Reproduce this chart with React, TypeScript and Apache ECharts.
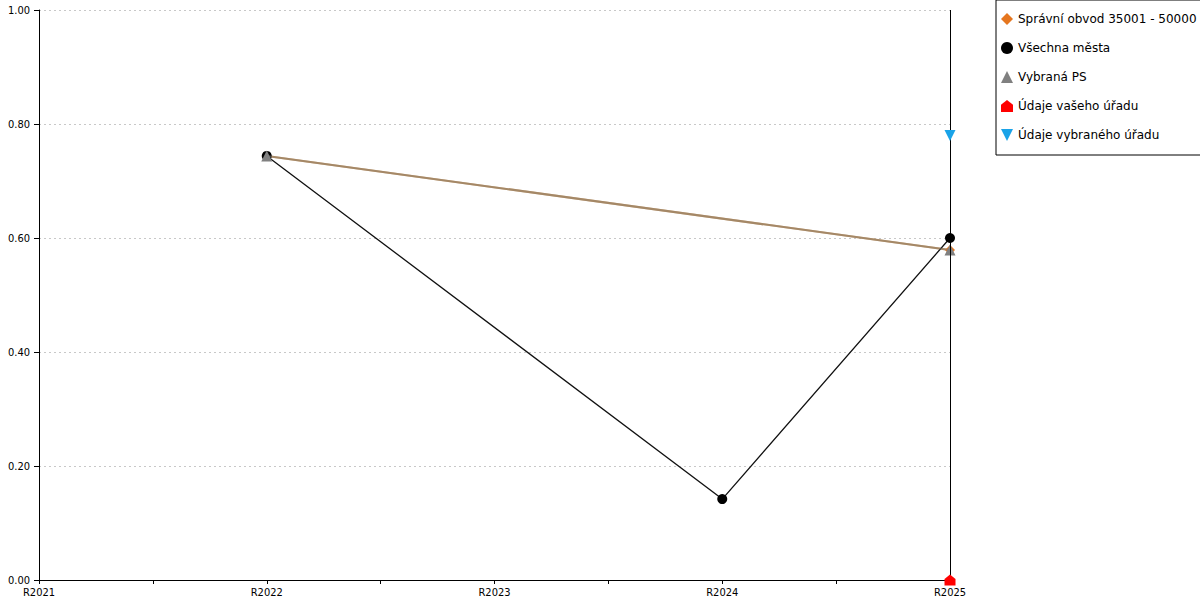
import React, { useEffect, useRef } from "react";
import * as echarts from "echarts";

const categories = ["R2021", "R2022", "R2023", "R2024", "R2025"];
const spravniObvod = [null, 0.744, null, null, 0.579];
const vsechnaMesta = [null, 0.744, null, 0.142, 0.6];
const vybranaPS = [null, 0.744, null, null, 0.579];
const vasehoUradu = [null, null, null, null, 0.0];
const vybranehoUradu = [null, null, null, null, 0.78];
const yTicks = [0, 0.2, 0.4, 0.6, 0.8, 1.0];

const toPairs = (arr: (number | null)[]) =>
  arr.map((v, i) => (v === null ? null : [i, v])).filter((p) => p !== null);

const FONT = "DejaVu Sans";
const AXIS_FONT = "DejaVu Sans Condensed, DejaVu Sans";

export default function App() {
  const ref = useRef<HTMLDivElement>(null);
  useEffect(() => {
    if (!ref.current) return;
    const chart = echarts.init(ref.current, null, { renderer: "svg" });
    const option: any = {
      animation: false,
      textStyle: { fontFamily: FONT },
      grid: { left: 39, right: 250, top: 10, bottom: 20, containLabel: false },
      legend: {
        orient: "vertical",
        left: 996,
        top: 0,
        padding: [13, 6, 14, 5],
        itemGap: 17,
        itemWidth: 12,
        itemHeight: 12,
        borderColor: "#000",
        borderWidth: 1,
        textStyle: { fontFamily: FONT, fontSize: 12, color: "#000" },
        data: [
          { name: "Správní obvod 35001 - 50000", icon: "diamond" },
          { name: "Všechna města", icon: "circle" },
          { name: "Vybraná PS", icon: "triangle" },
          { name: "Údaje vašeho úřadu", icon: "path://M0,4 L5,0 L10,4 L10,10 L0,10 Z" },
          { name: "Údaje vybraného úřadu", icon: "path://M0,0 L10,0 L5,10 Z" },
        ],
      },
      xAxis: {
        type: "value",
        min: 0,
        max: categories.length - 1,
        interval: 0.5,
        axisLine: { lineStyle: { color: "#000", width: 1 } },
        axisTick: { show: true, length: 4, lineStyle: { color: "#000" } },
        splitLine: { show: false },
        axisLabel: {
          color: "#000",
          fontFamily: AXIS_FONT,
          fontSize: 11,
          margin: 7,
          formatter: (v: number) => (Number.isInteger(v) ? categories[v] : ""),
        },
      },
      yAxis: {
        type: "value",
        min: yTicks[0],
        max: yTicks[yTicks.length - 1],
        interval: 0.2,
        axisLine: { show: true, lineStyle: { color: "#000", width: 1 } },
        axisTick: { show: true, length: 5, lineStyle: { color: "#000" } },
        axisLabel: {
          color: "#000",
          fontFamily: AXIS_FONT,
          fontSize: 11,
          margin: 9,
          formatter: (v: number) => v.toFixed(2),
        },
        splitLine: { show: true, lineStyle: { color: "#c8c8c8", type: [2, 3], width: 1 } },
      },
      series: [
        {
          name: "Správní obvod 35001 - 50000",
          type: "line",
          data: toPairs(spravniObvod),
          symbol: "diamond",
          symbolSize: 10,
          itemStyle: { color: "#e5761f" },
          lineStyle: { color: "#c9904f", width: 2 },
          z: 2,
          markLine: {
            silent: true,
            symbol: "none",
            label: { show: false },
            lineStyle: { color: "#000", type: "solid", width: 1 },
            data: [{ xAxis: 4 }],
          },
        },
        {
          name: "Všechna města",
          type: "line",
          data: toPairs(vsechnaMesta),
          symbol: "circle",
          symbolSize: 10,
          itemStyle: { color: "#000" },
          lineStyle: { color: "#111", width: 1.3 },
          z: 3,
        },
        {
          name: "Vybraná PS",
          type: "line",
          data: toPairs(vybranaPS),
          symbol: "triangle",
          symbolSize: 11,
          itemStyle: { color: "#808080" },
          lineStyle: { color: "#808080", width: 2, opacity: 0.5 },
          z: 4,
        },
        {
          name: "Údaje vašeho úřadu",
          type: "line",
          data: toPairs(vasehoUradu),
          symbol: "path://M0,4 L5,0 L10,4 L10,10 L0,10 Z",
          symbolSize: 11,
          itemStyle: { color: "#ff0000" },
          z: 5,
        },
        {
          name: "Údaje vybraného úřadu",
          type: "line",
          data: toPairs(vybranehoUradu),
          symbol: "path://M0,0 L10,0 L5,10 Z",
          symbolSize: 11,
          itemStyle: { color: "#1aa3e8" },
          z: 5,
        },
      ],
    };
    chart.setOption(option);
    return () => chart.dispose();
  }, []);
  return (
    <div
      ref={ref}
      style={{ position: "absolute", left: 0, top: 0, width: 1200, height: 600 }}
    />
  );
}
